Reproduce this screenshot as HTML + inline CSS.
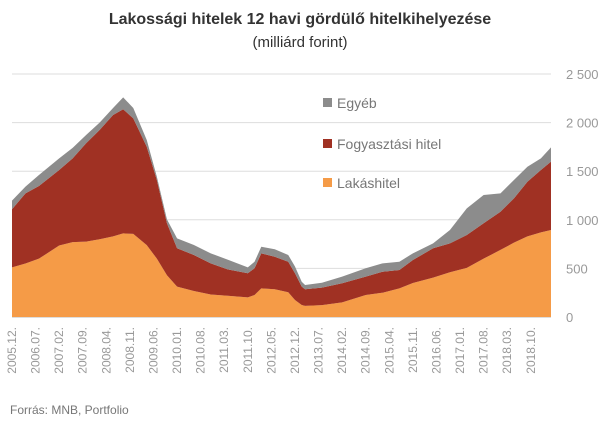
<!DOCTYPE html>
<html><head><meta charset="utf-8"><style>
body{margin:0;background:#fff;font-family:"Liberation Sans",sans-serif}
svg{display:block}
</style></head><body>
<svg id="chart" width="605" height="421" xmlns="http://www.w3.org/2000/svg">
<text x="300" y="24" text-anchor="middle" font-size="16" font-weight="bold" fill="#333">Lakossági hitelek 12 havi gördülő hitelkihelyezése</text>
<text x="300" y="47" text-anchor="middle" font-size="15" fill="#333">(milliárd forint)</text>
<g id="grid"></g>
<g id="areas"></g>
<g id="yticks"></g>
<g id="xticks"></g>
<g>
<rect x="323" y="98" width="9" height="9" fill="#8C8C8C"/>
<text x="337" y="108" font-size="14" fill="#777">Egyéb</text>
<rect x="323" y="139" width="9" height="9" fill="#A03123"/>
<text x="337" y="149" font-size="14" fill="#777">Fogyasztási hitel</text>
<rect x="323" y="178" width="9" height="9" fill="#F59B47"/>
<text x="337" y="188" font-size="14" fill="#777">Lakáshitel</text>
</g>
<text x="10" y="414" font-size="12" fill="#777">Forrás: MNB, Portfolio</text>
</svg>
<script>
const months=[0,4,8,14,18,22,26,30,33,36,40,43,46,49,54,59,64,70,72,74,78,82,84,86,87,92,98,105,110,115,119,125,130,135,140,145,149,153,157,160];
const housing=[511,550,600,735,770,775,800,830,860,855,740,600,430,312,267,232,218,202,226,295,285,255,175,123,115,122,150,226,250,295,350,405,460,505,600,690,765,830,870,895];
const consumer=[597,722,748,777,862,1012,1124,1248,1277,1189,1012,809,534,395,371,320,272,248,275,360,335,314,275,189,170,180,197,189,216,189,236,302,298,339,364,393,456,562,642,703];
const other=[89,69,113,120,108,85,76,72,123,106,69,34,41,102,103,103,100,61,68,68,77,69,70,51,44,51,68,86,86,85,69,51,137,274,291,189,188,154,120,147];
const yTicks=[0,500,1000,1500,2000,2500];
const yTickLabels=["0","500","1 000","1 500","2 000","2 500"];
const xLabels=["2005.12.","2006.07.","2007.02.","2007.09.","2008.04.","2008.11.","2009.06.","2010.01.","2010.08.","2011.03.","2011.10.","2012.05.","2012.12.","2013.07.","2014.02.","2014.09.","2015.04.","2015.11.","2016.06.","2017.01.","2017.08.","2018.03.","2018.10."];
const NS="http://www.w3.org/2000/svg";
const x0=12,x1=551,mMax=160,y0=317,y1=74,vMax=2500;
const X=m=>x0+(x1-x0)*m/mMax;
const Y=v=>y0-(y0-y1)*v/vMax;
const grid=document.getElementById('grid'),yt=document.getElementById('yticks'),xt=document.getElementById('xticks'),ar=document.getElementById('areas');
yTicks.forEach((t,i)=>{
 const l=document.createElementNS(NS,'line');
 
 
 l.setAttribute('x1',x0);l.setAttribute('x2',x1);l.setAttribute('y1',Y(t));l.setAttribute('y2',Y(t));
 l.setAttribute('stroke',t===0?'#bbb':'#ddd');l.setAttribute('stroke-width','1');
 grid.appendChild(l);
 const tx=document.createElementNS(NS,'text');
 
 
 tx.setAttribute('x',566);tx.setAttribute('y',Y(t)+5);tx.setAttribute('font-size','13');tx.setAttribute('fill','#999');
 tx.textContent=yTickLabels[i];yt.appendChild(tx);
});
xLabels.forEach((s,i)=>{
 const m=i*7;const tx=document.createElementNS(NS,'text');
 
 
 const x=X(m)+4;
 tx.setAttribute('transform','translate('+x+',327) rotate(-90)');
 tx.setAttribute('text-anchor','end');tx.setAttribute('font-size','12');tx.setAttribute('fill','#999');
 tx.textContent=s;xt.appendChild(tx);
});
const base=months.map(()=>0);
const layers=[[housing,'#F59B47','area-lakashitel'],[consumer,'#A03123','area-fogyasztasi'],[other,'#8C8C8C','area-egyeb']];
layers.forEach(([vals,col,name])=>{
 const top=base.map((b,i)=>b+vals[i]);
 let d='M'+months.map((m,i)=>X(m)+','+Y(top[i])).join('L');
 for(let i=months.length-1;i>=0;i--)d+='L'+X(months[i])+','+Y(base[i]);
 d+='Z';
 const p=document.createElementNS(NS,'path');
 
 
 p.setAttribute('d',d);p.setAttribute('fill',col);
 ar.appendChild(p);
 top.forEach((v,i)=>base[i]=v);
});
</script>
</body></html>
